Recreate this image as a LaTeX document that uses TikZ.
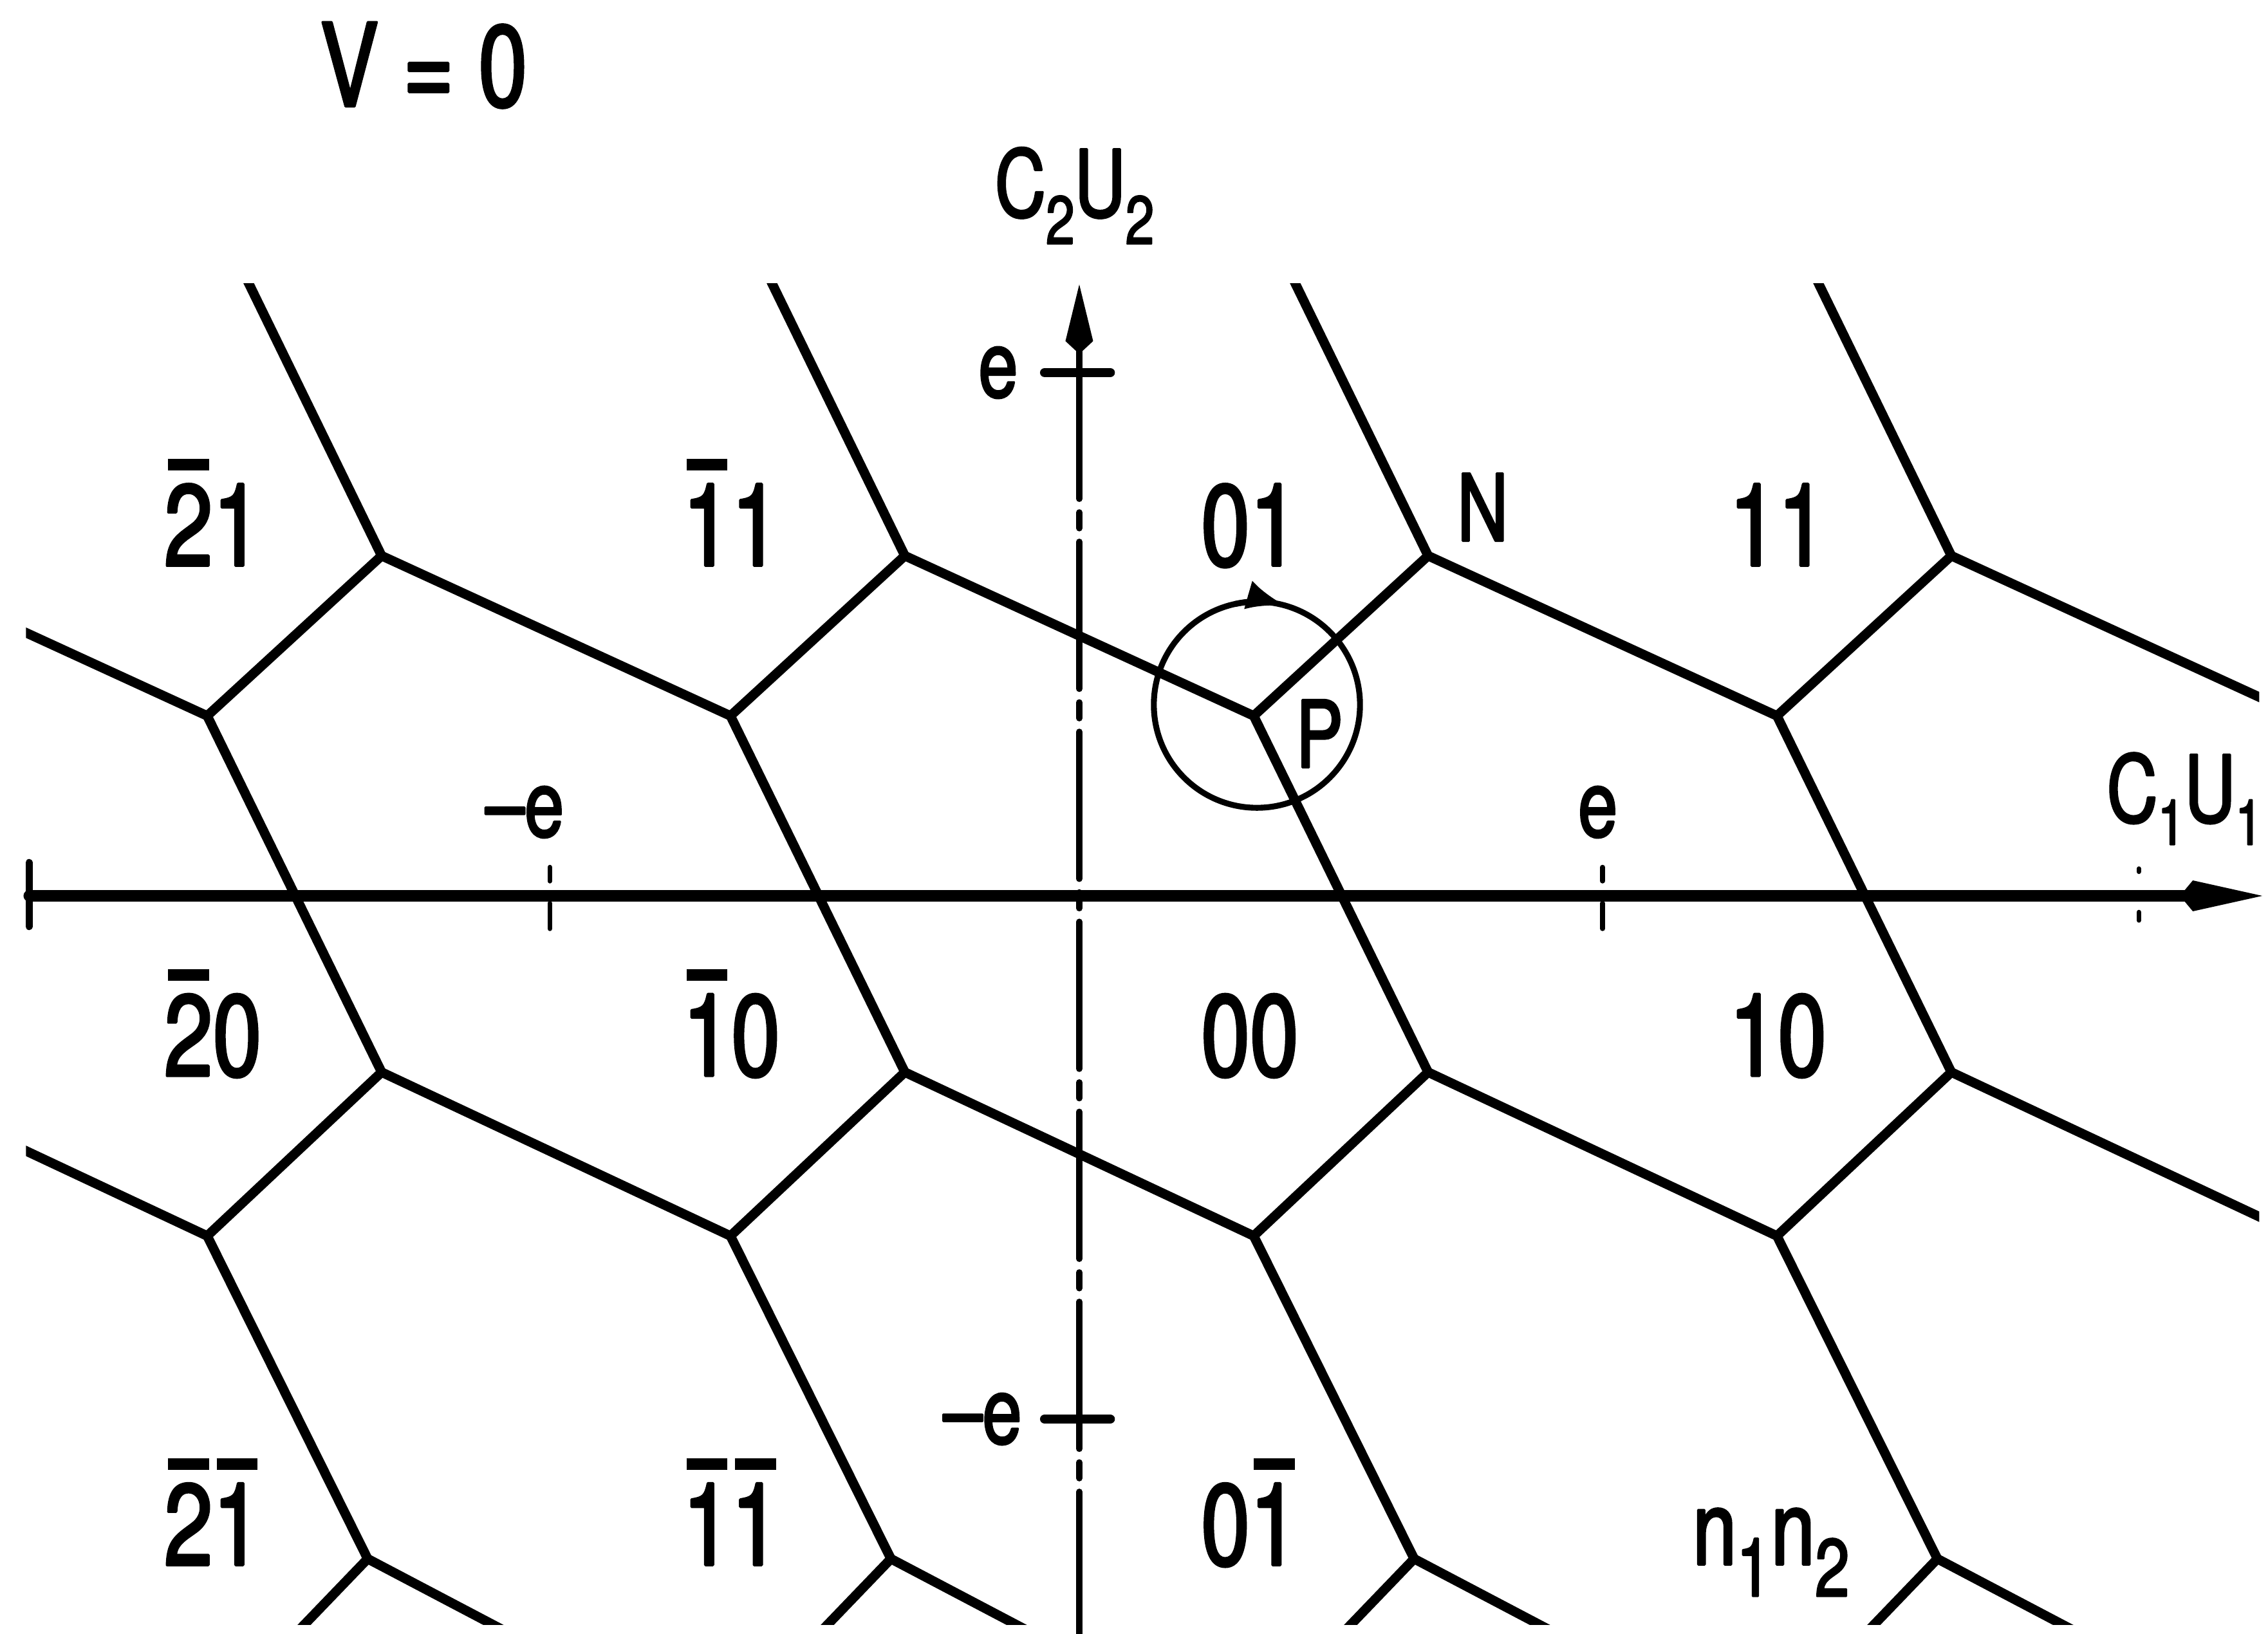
\documentclass[tikz,border=0pt]{standalone}
\usepackage{fontspec}
\setmainfont[FakeStretch=0.76,FakeBold=2.2]{TeX Gyre Heros}
\usetikzlibrary{arrows.meta}
\newcommand\ov[1]{\leavevmode\setbox0\hbox{#1}\vbox{\offinterlineskip\hbox to \wd0{\hskip 0.08\wd0\leaders\hrule height 5pt\hfill\hskip 0.08\wd0}\kern6pt\box0}}
\newcommand\lo[3]{\raisebox{-#1}{\fontsize{#2}{#2}\selectfont #3}}
\begin{document}
\begin{tikzpicture}[x=8.13cm,y=8.13cm,line cap=round,line join=round,
  hc/.style={line width=4.2pt},
  haxis/.style={line width=5pt},
  vaxis/.style={line width=2.8pt},
  tickmark/.style={line width=4.2pt},
  smalltick/.style={line width=2pt},
  circ/.style={line width=2.6pt},
  lab/.style={inner sep=0pt,font=\fontsize{41}{48}\selectfont},
  num/.style={inner sep=0pt,anchor=base,font=\fontsize{51}{60}\selectfont}]
\useasboundingbox (-2.0627,-1.4096) rectangle (2.2718,1.7122);
% honeycomb
\begin{scope}
\clip (-2.013,-1.393) rectangle (2.255,1.17);
\foreach \i in {-3,...,2}{
  \draw[hc] (\i+1/3,4/3) -- (\i+2/3,0.65) -- (\i+1/3,0.344) -- (\i+2/3,-0.337) -- (\i+1/3,-0.65) -- (\i+0.64,-1.267) -- ++(-0.25,-0.26);
  \draw[hc] (\i+2/3,0.65) -- (\i+4/3,0.344);
  \draw[hc] (\i+2/3,-0.337) -- (\i+4/3,-0.65);
  \draw[hc] (\i+0.64,-1.267) -- ++(0.46,-0.242);
}
\end{scope}
% axes
\draw[haxis,-{Kite[length=1.28cm,width=0.48cm,inset=0.2cm]}] (-2.007,0) -- (2.261,0);
\draw[vaxis,dash pattern=on 65pt off 6pt on 7pt off 6pt] (0,-1.42) -- (0,0.92);
\draw[vaxis,-{Kite[length=1.08cm,width=0.43cm,inset=0.2cm]}] (0,0.92) -- (0,1.1685);
% ticks
\draw[tickmark] (-0.066,1) -- (0.059,1);
\draw[tickmark] (-0.066,-1) -- (0.059,-1);
\draw[line width=3pt] (-2.007,0.064) -- (-2.007,-0.059);
\foreach \x in {-1.012,1.0}{
  \draw[smalltick] (\x,0.055) -- (\x,0.028);
  \draw[smalltick] (\x,-0.014) -- (\x,-0.063);
}
\draw[smalltick] (2.025,0.052) -- (2.025,0.046);
\draw[smalltick] (2.025,-0.031) -- (2.025,-0.047);
% circle around P
\coordinate (pc) at (0.3395,0.3653);
\draw[circ] (pc) circle (0.197);
\draw[circ,-{Latex[length=0.6cm,width=0.46cm]}] ([shift={(102:0.197)}]pc) arc (102:74:0.197);
% labels
\node[num] (v0) at (-1.253,1.509) {V = 0};
\node[lab,anchor=base west] (c2u2) at (-0.162,1.298) {C\lo{12pt}{30}{2}U\lo{12pt}{30}{2}};
\node[lab,anchor=base west] (c1u1) at (1.963,0.141) {C\lo{10pt}{28}{1}U\lo{10pt}{28}{1}};
\node[lab] (eUp) at (-0.155,1.0) {e};
\node[lab] (eDown) at (-0.185,-1.0) {–e};
\node[lab] (eLeft) at (-1.060,0.160) {–e};
\node[lab] (eRight) at (0.991,0.160) {e};
\node[lab] (N) at (0.771,0.743) {N};
\node[lab] (P) at (0.459,0.310) {P};
% cell labels
\node[num] (m21) at (-1.656,0.631) {\ov{2}1};
\node[num] (m11) at (-0.665,0.631) {\ov{1}1};
\node[num] (c01) at (0.326,0.631) {01};
\node[num] (c11) at (1.335,0.631) {11};
\node[num] (m20) at (-1.656,-0.344) {\ov{2}0};
\node[num] (m10) at (-0.665,-0.344) {\ov{1}0};
\node[num] (c00) at (0.326,-0.344) {00};
\node[num] (c10) at (1.335,-0.344) {10};
\node[num] (mm21) at (-1.656,-1.279) {\ov{2}\ov{1}};
\node[num] (mm11) at (-0.665,-1.279) {\ov{1}\ov{1}};
\node[num] (c0m1) at (0.326,-1.279) {0\ov{1}};
\node[num,font=\fontsize{46}{54}\selectfont] (nn) at (1.322,-1.278) {n\lo{14pt}{36}{1}n\lo{14pt}{36}{2}};
\end{tikzpicture}
\end{document}
